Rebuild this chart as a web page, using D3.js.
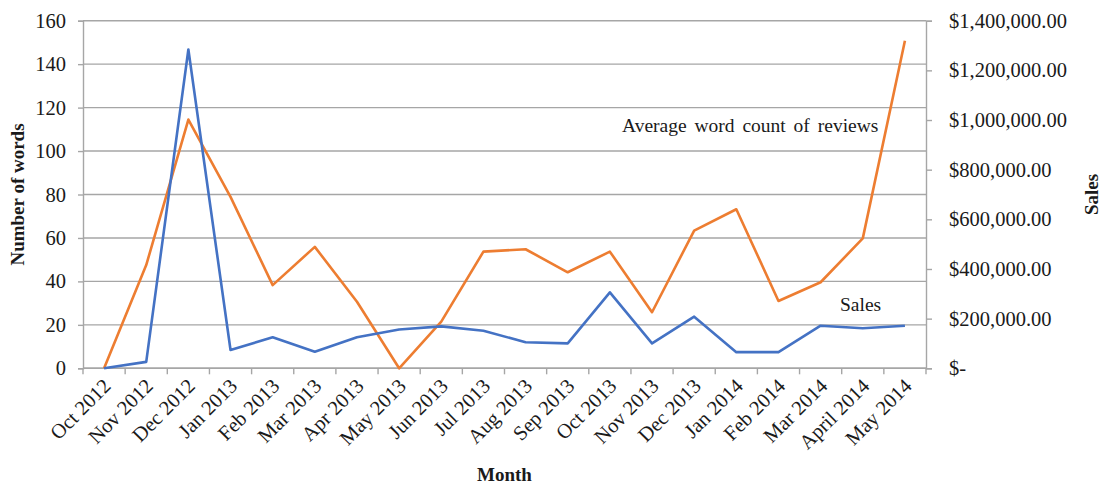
<!DOCTYPE html>
<html>
<head>
<meta charset="utf-8">
<script src="https://cdn.jsdelivr.net/npm/d3@7"></script>
<style>
  body { margin: 0; background: #fff; }
  text { font-family: "Liberation Serif", "Times New Roman", serif; fill: #1a1a1a; }
</style>
</head>
<body>
<svg id="chart" width="1104" height="487"></svg>
<script>
// Monthly categories
const months = [
  "Oct 2012", "Nov 2012", "Dec 2012", "Jan 2013", "Feb 2013", "Mar 2013",
  "Apr 2013", "May 2013", "Jun 2013", "Jul 2013", "Aug 2013", "Sep 2013",
  "Oct 2013", "Nov 2013", "Dec 2013", "Jan 2014", "Feb 2014", "Mar 2014",
  "April 2014", "May 2014"
];

// Average word count of reviews (left axis, words)
const wordCount = [
  0, 47.5, 114.5, 78.9, 38.3, 55.9, 30.6, 0, 21.5, 53.7,
  54.8, 44.2, 53.7, 25.8, 63.4, 73.2, 31.0, 39.6, 59.8, 150.8
];

// Sales (right axis, dollars)
const sales = [
  0, 26000, 1284000, 73500, 125000, 66500, 125000, 156500, 169000, 151000,
  105000, 100500, 306000, 100500, 208000, 65000, 65000, 171500, 161000, 171500
];

// Axis tick values
const wordTicks = [0, 20, 40, 60, 80, 100, 120, 140, 160];
const salesTicks = [0, 200000, 400000, 600000, 800000, 1000000, 1200000, 1400000];

const svg = d3.select("#chart");
const plot = { left: 83, right: 926, top: 20.7, bottom: 368.3 };

const x = d3.scaleBand().domain(months).range([plot.left, plot.right]);
const yWords = d3.scaleLinear().domain([0, 160]).range([plot.bottom, plot.top]);
const ySales = d3.scaleLinear().domain([0, 1400000]).range([plot.bottom, plot.top]);

const gridColor = "#a6a6a6";
const tickFont = 20.5;
const fmtSales = v => v === 0 ? "$-" : "$" + d3.format(",.2f")(v);

// Horizontal gridlines on the word-count ticks
svg.append("g")
  .selectAll("line")
  .data(wordTicks)
  .join("line")
  .attr("x1", plot.left).attr("x2", plot.right)
  .attr("y1", d => yWords(d)).attr("y2", d => yWords(d))
  .attr("stroke", gridColor).attr("stroke-width", 1.4);

// Left axis
const leftAxis = svg.append("g")
  .attr("transform", `translate(${plot.left},0)`)
  .call(d3.axisLeft(yWords).tickValues(wordTicks).tickSize(5).tickPadding(12));
leftAxis.select(".domain").attr("stroke", gridColor).attr("stroke-width", 1.4);
leftAxis.selectAll(".tick line").attr("stroke", gridColor).attr("stroke-width", 1.4);
leftAxis.selectAll(".tick text").attr("font-size", tickFont).attr("font-family", null);

// Right axis
const rightAxis = svg.append("g")
  .attr("transform", `translate(${plot.right},0)`)
  .call(d3.axisRight(ySales).tickValues(salesTicks).tickFormat(fmtSales).tickSize(6).tickPadding(17));
rightAxis.select(".domain").attr("stroke", gridColor).attr("stroke-width", 1.4);
rightAxis.selectAll(".tick line").attr("stroke", gridColor).attr("stroke-width", 1.4);
rightAxis.selectAll(".tick text").attr("font-size", tickFont).attr("font-family", null);

// Bottom axis: line, boundary ticks, rotated month labels
const xAxis = svg.append("g");
xAxis.append("line")
  .attr("x1", plot.left).attr("x2", plot.right)
  .attr("y1", plot.bottom).attr("y2", plot.bottom)
  .attr("stroke", gridColor).attr("stroke-width", 1.4);
const boundaries = months.map(m => x(m)).concat([x.range()[1]]);
xAxis.selectAll("line.tick")
  .data(boundaries)
  .join("line")
  .attr("class", "tick")
  .attr("x1", d => d).attr("x2", d => d)
  .attr("y1", plot.bottom).attr("y2", plot.bottom + 6)
  .attr("stroke", gridColor).attr("stroke-width", 1.4);
xAxis.selectAll("text")
  .data(months)
  .join("text")
  .attr("transform", d => `translate(${x(d) + x.bandwidth() / 2 + 8},${plot.bottom + 19}) rotate(-45)`)
  .attr("text-anchor", "end")
  .attr("font-size", tickFont)
  .text(d => d);

// Series lines
const cx = i => x(months[i]) + x.bandwidth() / 2;
const wordLine = d3.line().x((d, i) => cx(i)).y(d => yWords(d));
const salesLine = d3.line().x((d, i) => cx(i)).y(d => ySales(d));

svg.append("path")
  .datum(wordCount)
  .attr("d", wordLine)
  .attr("fill", "none")
  .attr("stroke", "#ED7D31")
  .attr("stroke-width", 2.6)
  .attr("stroke-linejoin", "round");

svg.append("path")
  .datum(sales)
  .attr("d", salesLine)
  .attr("fill", "none")
  .attr("stroke", "#4472C4")
  .attr("stroke-width", 2.6)
  .attr("stroke-linejoin", "round");

// Series annotations
svg.append("text")
  .attr("x", 622).attr("y", 132)
  .attr("font-size", 19.5)
  .attr("word-spacing", 3)
  .text("Average word count of reviews");
svg.append("text")
  .attr("x", 840).attr("y", 311)
  .attr("font-size", 19.5)
  .text("Sales");

// Axis titles
svg.append("text")
  .attr("transform", `translate(24,${(plot.top + plot.bottom) / 2}) rotate(-90)`)
  .attr("text-anchor", "middle")
  .attr("font-size", 19).attr("font-weight", "bold")
  .text("Number of words");
svg.append("text")
  .attr("x", (plot.left + plot.right) / 2).attr("y", 481)
  .attr("text-anchor", "middle")
  .attr("font-size", 19).attr("font-weight", "bold")
  .text("Month");
svg.append("text")
  .attr("transform", `translate(1098,${(plot.top + plot.bottom) / 2}) rotate(-90)`)
  .attr("text-anchor", "middle")
  .attr("font-size", 19).attr("font-weight", "bold")
  .text("Sales");
</script>
</body>
</html>
